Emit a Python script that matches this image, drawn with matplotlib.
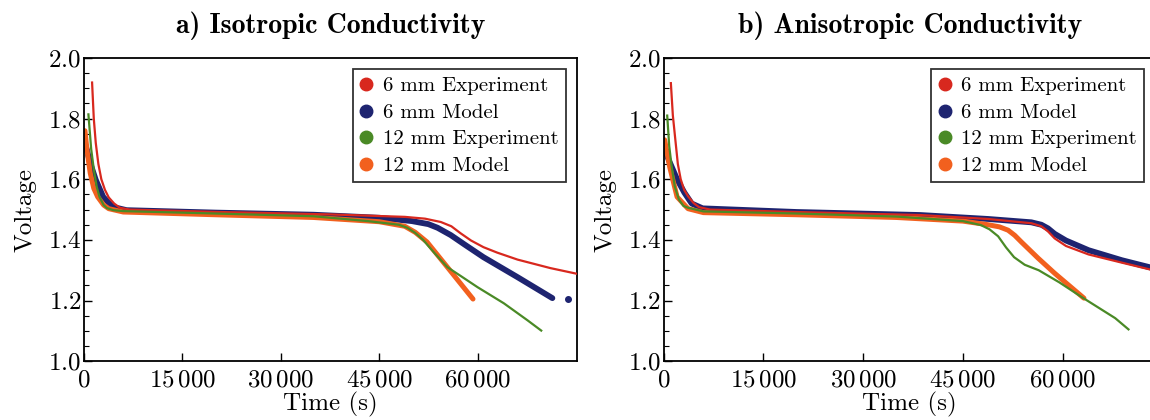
import numpy as np
import matplotlib.pyplot as plt
from matplotlib.ticker import MultipleLocator, FuncFormatter

plt.rcParams['font.family'] = 'cmr10'
plt.rcParams['mathtext.fontset'] = 'cm'
plt.rcParams['axes.formatter.use_mathtext'] = True

# ---- a) isotropic conductivity ----
iso_red_t = [1240, 1500, 1800, 2200, 2650, 3200, 3780, 4600, 5470, 7000, 20700, 37600,
             48900, 52000, 54400, 56000, 57400, 59000, 60900, 63000, 66100, 71100, 75200]
iso_red_v = [1.919, 1.80, 1.72, 1.65, 1.60, 1.565, 1.54, 1.52, 1.506, 1.500, 1.492, 1.484,
             1.476, 1.470, 1.459, 1.445, 1.422, 1.398, 1.376, 1.358, 1.335, 1.307, 1.288]
iso_blue_t = [100, 400, 960, 1800, 2930, 4340, 6500, 20000, 35000, 45000, 50000, 52500,
              53900, 55900, 58000, 60900, 66100, 71400]
iso_blue_v = [1.72, 1.70, 1.653, 1.598, 1.542, 1.509, 1.498, 1.490, 1.483, 1.473, 1.462,
              1.452, 1.440, 1.416, 1.385, 1.343, 1.277, 1.208]
iso_blue_tail_t = [73800]
iso_blue_tail_v = [1.205]
iso_green_t = [680, 1100, 1520, 1950, 2370, 3000, 3500, 4500, 6000, 20000, 35000, 43300,
               48000, 49300, 50500, 51700, 53500, 55400, 57500, 60000, 64000, 67600, 69700]
iso_green_v = [1.814, 1.70, 1.63, 1.575, 1.542, 1.515, 1.505, 1.498, 1.495, 1.487, 1.478,
               1.462, 1.450, 1.440, 1.423, 1.40, 1.355, 1.31, 1.28, 1.244, 1.191, 1.135, 1.101]
iso_orange_t = [150, 500, 960, 1500, 2090, 3000, 3780, 6000, 20000, 35000, 45000, 48900,
                50500, 52300, 55400, 59300]
iso_orange_v = [1.76, 1.69, 1.62, 1.57, 1.542, 1.515, 1.503, 1.492, 1.483, 1.474, 1.460,
                1.445, 1.425, 1.393, 1.31, 1.205]

# ---- b) anisotropic conductivity ----
ani_red_t = [1100, 1400, 1760, 2150, 2580, 3100, 3680, 4500, 5330, 7000, 20000, 38600,
             48800, 55300, 56800, 57800, 58800, 60500, 63900, 68900, 73600]
ani_red_v = [1.917, 1.81, 1.733, 1.65, 1.60, 1.565, 1.544, 1.522, 1.508, 1.500, 1.492, 1.482,
             1.469, 1.455, 1.445, 1.428, 1.405, 1.380, 1.352, 1.325, 1.300]
ani_blue_t = [100, 930, 2030, 3130, 4230, 5880, 20000, 38600, 48800, 55300, 56800, 57800,
              58800, 60500, 63900, 68900, 73600]
ani_blue_v = [1.70, 1.656, 1.60, 1.556, 1.52, 1.504, 1.492, 1.482, 1.469, 1.458, 1.450,
              1.438, 1.420, 1.398, 1.366, 1.333, 1.307]
ani_green_t = [550, 850, 1210, 1700, 2310, 3000, 3680, 6000, 20000, 35000, 45000, 47700,
               49000, 50300, 51500, 52700, 54300, 56400, 59500, 62900, 67900, 69900]
ani_green_v = [1.81, 1.71, 1.644, 1.575, 1.533, 1.512, 1.506, 1.494, 1.487, 1.477, 1.462,
               1.449, 1.435, 1.412, 1.375, 1.343, 1.318, 1.30, 1.26, 1.211, 1.142, 1.105]
ani_orange_t = [160, 930, 2030, 3680, 6000, 20000, 35000, 45000, 48800, 50500, 51800,
                52800, 53800, 56300, 58800, 63200]
ani_orange_v = [1.73, 1.64, 1.542, 1.503, 1.490, 1.483, 1.474, 1.462, 1.450, 1.443, 1.432,
                1.415, 1.393, 1.340, 1.290, 1.208]

x_ticks = [0, 15000, 30000, 45000, 60000]
labels = ['6 mm Experiment', '6 mm Model', '12 mm Experiment', '12 mm Model']
titles = ['a) Isotropic Conductivity', 'b) Anisotropic Conductivity']

c_red = '#d8281e'
c_blue = '#1e2470'
c_green = '#4a8a26'
c_orange = '#f2601e'

fig = plt.figure(figsize=(11.5, 4.2), dpi=100)
ax1 = fig.add_axes([0.073, 0.140, 0.429, 0.722])
ax2 = fig.add_axes([0.577, 0.140, 0.428, 0.722])


def fmt_time(v, pos):
    if v == 0:
        return r'$0$'
    s = f'{int(v):,}'.replace(',', r'\,')
    return '$' + s + '$'


def draw(ax, red, blue, green, orange, xmax, title, tail=None):
    ax.plot(red[0], red[1], color=c_red, lw=1.6, zorder=3)
    ax.plot(blue[0], blue[1], color=c_blue, lw=4.2, solid_capstyle='round',
            solid_joinstyle='round', zorder=2)
    ax.plot(green[0], green[1], color=c_green, lw=1.6, zorder=4)
    ax.plot(orange[0], orange[1], color=c_orange, lw=3.6, solid_capstyle='round',
            solid_joinstyle='round', zorder=2)
    if tail is not None:
        ax.plot(tail[0], tail[1], 'o', color=c_blue, ms=4, zorder=2)

    # legend handles
    for lab, c in zip(labels, [c_red, c_blue, c_green, c_orange]):
        ax.plot([], [], 'o', color=c, ms=9, label=lab)
    leg = ax.legend(loc='upper right', fontsize=15, frameon=True, fancybox=False,
                    handlelength=0.6, handletextpad=0.5, borderpad=0.35,
                    labelspacing=0.38, borderaxespad=0.55, edgecolor='black')
    leg.get_frame().set_linewidth(1.3)

    ax.set_xlim(0, xmax)
    ax.set_ylim(1.0, 2.0)
    ax.set_xticks(x_ticks)
    ax.xaxis.set_major_formatter(FuncFormatter(fmt_time))
    ax.yaxis.set_major_locator(MultipleLocator(0.2))
    ax.yaxis.set_minor_locator(MultipleLocator(0.05))
    ax.yaxis.set_major_formatter(FuncFormatter(lambda v, p: f'${v:.1f}$'))
    ax.tick_params(direction='in', labelsize=18, length=6, width=1.0, pad=2)
    ax.tick_params(axis='x', pad=6)
    ax.tick_params(which='minor', direction='in', length=3.5, width=0.8)
    for s in ax.spines.values():
        s.set_linewidth(1.3)
    ax.set_xlabel('Time (s)', fontsize=18, labelpad=0)
    ax.set_ylabel('Voltage', fontsize=18, labelpad=8)
    ax.set_title(title, fontsize=20, family='cmb10', pad=18)


draw(ax1, (iso_red_t, iso_red_v), (iso_blue_t, iso_blue_v), (iso_green_t, iso_green_v),
     (iso_orange_t, iso_orange_v), 75200, titles[0], tail=(iso_blue_tail_t, iso_blue_tail_v))
draw(ax2, (ani_red_t, ani_red_v), (ani_blue_t, ani_blue_v), (ani_green_t, ani_green_v),
     (ani_orange_t, ani_orange_v), 74000, titles[1])

fig.savefig('out.png', dpi=100)
